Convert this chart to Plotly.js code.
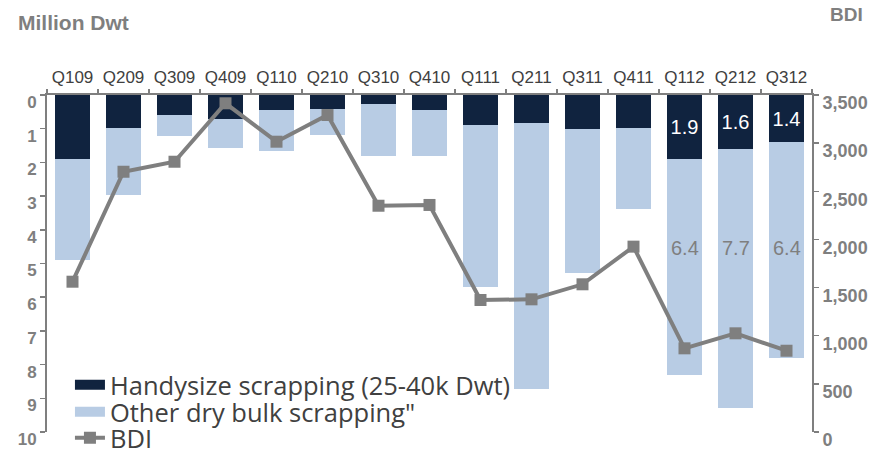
<!DOCTYPE html>
<html>
<head>
<meta charset="utf-8">
<script src="https://cdn.plot.ly/plotly-3.0.1.min.js"></script>
<style>html,body{margin:0;padding:0;background:#fff;}#chart{width:880px;height:451px;}</style>
</head>
<body>
<div id="chart"></div>
<script>
// ---- data ----
const quarters = ['Q109','Q209','Q309','Q409','Q110','Q210','Q310','Q410','Q111','Q211','Q311','Q411','Q112','Q212','Q312'];
const handysize = [1.90,0.97,0.59,0.72,0.45,0.42,0.26,0.44,0.89,0.84,1.00,0.98,1.9,1.6,1.4];
const otherDryBulk = [3.00,2.01,0.63,0.84,1.21,0.78,1.54,1.38,4.80,7.89,4.29,2.41,6.4,7.7,6.4];
const bdi = [1561,2703,2807,3414,3015,3292,2350,2358,1371,1378,1534,1925,869,1025,844];
const labeledQuarters = ['Q112','Q212','Q312'];
const seriesNames = ['Handysize scrapping (25-40k Dwt)', 'Other dry bulk scrapping"', 'BDI'];

// ---- styles ----
const DARK = '#10233f', LIGHT = '#b8cce4', GREY = '#7f7f7f';
const AXFONT = 'Liberation Sans, Arial, sans-serif';

const handyText = quarters.map((q,i) => labeledQuarters.includes(q) ? handysize[i].toFixed(1) : '');

const traces = [
  {type:'bar', x:quarters, y:handysize, marker:{color:DARK}, showlegend:false,
   text:handyText, textposition:'inside', insidetextanchor:'middle', constraintext:'none',
   textangle:0, textfont:{family:AXFONT, size:20, color:'#ffffff'}, hoverinfo:'skip'},
  {type:'bar', x:quarters, y:otherDryBulk, marker:{color:LIGHT}, showlegend:false, hoverinfo:'skip'},
  {type:'scatter', mode:'lines+markers', x:quarters, y:bdi, yaxis:'y2', name:seriesNames[2],
   line:{color:GREY, width:4}, marker:{symbol:'square', size:12, color:GREY},
   legend:'legend3', hoverinfo:'skip'},
  // legend keys for the bar series (wide rectangles like the reference)
  {type:'scatter', mode:'lines', x:[null], y:[null], name:seriesNames[0], line:{color:DARK, width:10}, legend:'legend', hoverinfo:'skip'},
  {type:'scatter', mode:'lines', x:[null], y:[null], name:seriesNames[1], line:{color:LIGHT, width:10}, legend:'legend2', hoverinfo:'skip'}
];

const annotations = [
  {xref:'paper', yref:'paper', x:0.034, y:1.2137, xanchor:'center', yanchor:'middle', text:'Million Dwt', showarrow:false,
   font:{family:AXFONT, size:21, color:GREY, weight:700}},
  {xref:'paper', yref:'paper', x:1.045, y:1.2374, xanchor:'center', yanchor:'middle', text:'BDI', showarrow:false,
   font:{family:AXFONT, size:19, color:GREY, weight:700}}
];
quarters.forEach((q,i) => {
  if (labeledQuarters.includes(q)) {
    annotations.push({x:q, y:4.55, xref:'x', yref:'y', text:otherDryBulk[i].toFixed(1), showarrow:false,
      font:{family:AXFONT, size:20, color:GREY}});
  }
});

const legendBase = {xref:'paper', yref:'paper', x:0.03, xanchor:'left', yanchor:'middle',
  bgcolor:'rgba(0,0,0,0)', borderwidth:0,
  font:{family:'Open Sans, sans-serif', size:25.5, color:'#404040'}};

const layout = {
  width:880, height:451,
  margin:{l:47, r:68, t:95, b:19, autoexpand:false},
  paper_bgcolor:'#ffffff', plot_bgcolor:'#ffffff',
  barmode:'stack', bargap:0.31,
  showlegend:true,
  legend: Object.assign({}, legendBase, {y:0.139}),
  legend2: Object.assign({}, legendBase, {y:0.059}),
  legend3: Object.assign({}, legendBase, {y:-0.018}),
  xaxis:{side:'top', type:'category', range:[-0.5, quarters.length-0.5], showline:true, linecolor:GREY, linewidth:2,
    ticks:'outside', tickson:'boundaries', ticklen:4, tickcolor:GREY, tickwidth:1.5,
    tickangle:0, ticklabelstandoff:3,
    tickfont:{family:AXFONT, size:17, color:'#404040'}, showgrid:false, zeroline:false},
  yaxis:{range:[10,0], dtick:1, showline:true, linecolor:GREY, linewidth:2,
    ticks:'outside', ticklen:5, tickcolor:GREY, tickwidth:1.5, showgrid:false, zeroline:false,
    ticklabelshift:-7,
    tickfont:{family:AXFONT, size:17, color:GREY, weight:700}},
  yaxis2:{overlaying:'y', side:'right', range:[0,3500], dtick:500, tickformat:',d',
    showline:true, linecolor:GREY, linewidth:2, ticks:'outside', ticklen:5, tickcolor:GREY, tickwidth:1.5,
    showgrid:false, zeroline:false, ticklabelshift:8,
    tickfont:{family:AXFONT, size:18, color:GREY, weight:700}},
  annotations:annotations
};

Plotly.newPlot('chart', traces, layout, {displayModeBar:false, staticPlot:true});
</script>
</body>
</html>
